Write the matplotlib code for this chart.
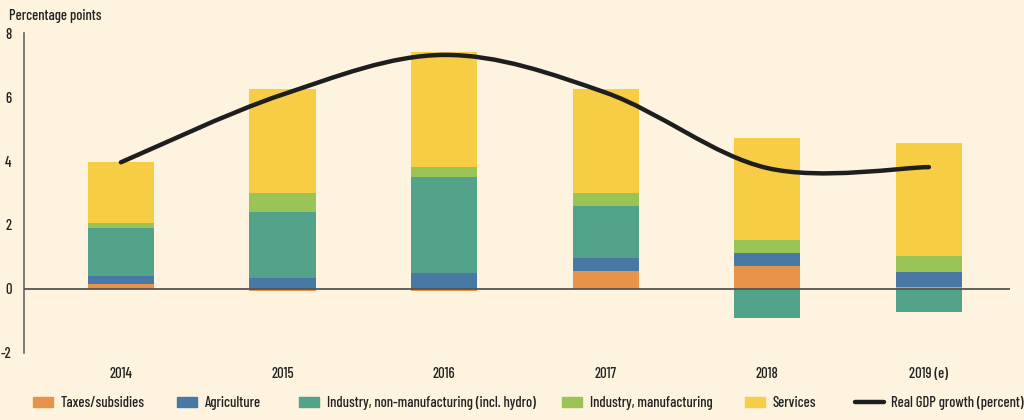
import matplotlib.pyplot as plt
import numpy as np
from matplotlib.path import Path
from matplotlib.patches import PathPatch, Rectangle
from matplotlib.lines import Line2D

plt.rcParams["font.family"] = ["Barlow Condensed", "DejaVu Sans"]
plt.rcParams["font.weight"] = "medium"
plt.rcParams["axes.unicode_minus"] = False

# Data
years = ["2014", "2015", "2016", "2017", "2018", "2019 (e)"]
taxes = [0.16, -0.07, -0.07, 0.56, 0.72, 0.07]
agriculture = [0.25, 0.35, 0.50, 0.41, 0.40, 0.45]
industry_non = [1.50, 2.07, 3.00, 1.63, -0.92, -0.72]
industry_man = [0.15, 0.58, 0.31, 0.40, 0.40, 0.50]
services = [1.91, 3.26, 3.60, 3.26, 3.19, 3.54]
gdp = [3.96, 6.08, 7.32, 6.14, 3.78, 3.81]

series = [
    ("Taxes/subsidies", taxes, "#E8934A"),
    ("Agriculture", agriculture, "#4878A4"),
    ("Industry, non-manufacturing (incl. hydro)", industry_non, "#52A38A"),
    ("Industry, manufacturing", industry_man, "#9AC556"),
    ("Services", services, "#F6CD45"),
]

bg = "#FDF3DF"
txtcol = "#222222"
fs = 10.5
fig = plt.figure(figsize=(10.24, 4.2), dpi=100, facecolor=bg)
ax = fig.add_axes([0.0234, 0.16, 0.9626, 0.761], facecolor=bg)

x = np.arange(len(years))
pos = np.zeros(len(years))
neg = np.zeros(len(years))
handles = []
for name, vals, col in series:
    vals = np.array(vals)
    bottom = np.where(vals >= 0, pos, neg)
    ax.bar(x, vals, 0.41, bottom=bottom, color=col, edgecolor="none", zorder=2)
    pos = np.where(vals >= 0, pos + vals, pos)
    neg = np.where(vals < 0, neg + vals, neg)
    handles.append(Rectangle((0, 0), 1, 1, color=col, label=name))

# smoothed GDP line (Catmull-Rom style bezier through the points)
pts = np.column_stack([x, gdp]).astype(float)
verts = [pts[0]]
codes = [Path.MOVETO]
for i in range(len(pts) - 1):
    p0 = pts[i - 1] if i > 0 else pts[i]
    p1, p2 = pts[i], pts[i + 1]
    p3 = pts[i + 2] if i + 2 < len(pts) else pts[i + 1]
    c1 = p1 + (p2 - p0) / 6
    c2 = p2 - (p3 - p1) / 6
    verts += [c1, c2, p2]
    codes += [Path.CURVE4] * 3
ax.add_patch(PathPatch(Path(verts, codes), facecolor="none", edgecolor="#1E1E1E",
                       lw=3.2, capstyle="round", zorder=4))
handles.append(Line2D([0], [0], color="#1E1E1E", lw=3.2, solid_capstyle="round",
                      label="Real GDP growth (percent)"))

ax.axhline(0, color="#555555", lw=1.3, zorder=3)
ax.set_xlim(-0.6, 5.5)
ax.set_ylim(-2, 8)
for s in ["top", "right", "bottom"]:
    ax.spines[s].set_visible(False)
ax.spines["left"].set_color("#666666")
ax.spines["left"].set_linewidth(1.2)
ax.set_yticks([-2, 0, 2, 4, 6, 8])
ax.tick_params(axis="y", length=0, pad=9, labelsize=fs, colors=txtcol)
ax.set_xticks(x)
ax.set_xticklabels(years)
ax.tick_params(axis="x", length=0, pad=10, labelsize=fs, colors=txtcol)

fig.text(0.009, 0.963, "Percentage points", fontsize=fs, color=txtcol, va="center")

# legend entries placed individually along the bottom
leg_x = [0.0322, 0.1729, 0.292, 0.5488, 0.7275, 0.835]
for i, (h, lx) in enumerate(zip(handles, leg_x)):
    fig.legend(handles=[h], loc="center left", bbox_to_anchor=(lx, 0.04),
               frameon=False, fontsize=fs, handlelength=2.0 if i == 5 else 1.4,
               handleheight=0.65, handletextpad=0.5, borderaxespad=0,
               borderpad=0, labelcolor=txtcol)

fig.savefig("out.png", dpi=100, facecolor=bg)
